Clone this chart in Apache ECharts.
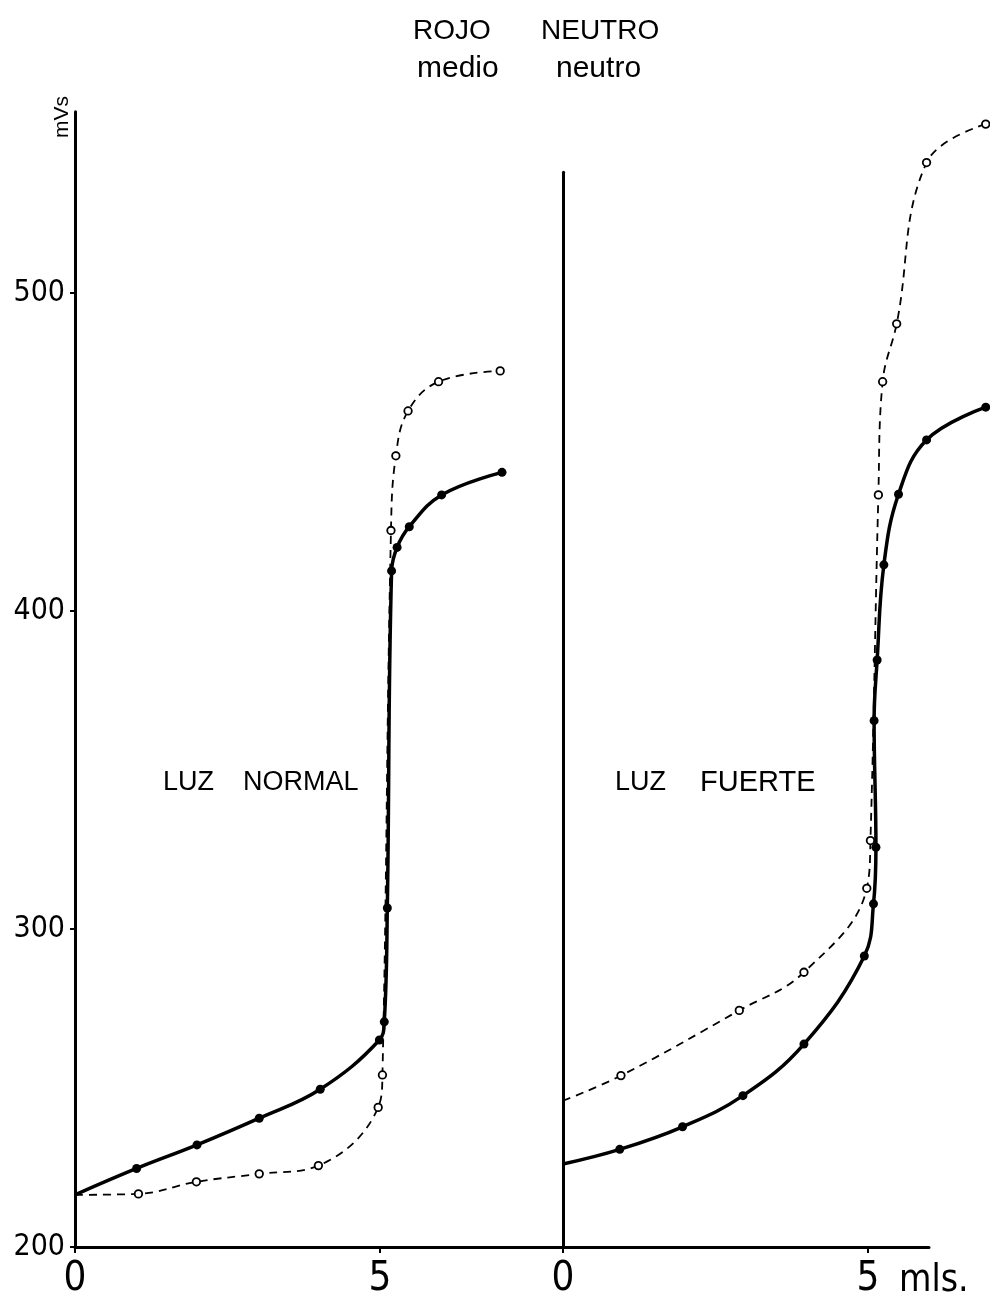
<!DOCTYPE html>
<html>
<head>
<meta charset="utf-8">
<script src="https://cdn.jsdelivr.net/npm/echarts@6/dist/echarts.min.js"></script>
<style>
html,body{margin:0;padding:0;background:#fff;}
#chart{width:990px;height:1299px;}
</style>
</head>
<body>
<div id="chart"></div>
<script>
// ---- data (x in mls., y in mVs) ----
const yTicks = [200, 300, 400, 500];
const xTicks = [0, 5];

// LUZ NORMAL
const normalSolid = [[0,216.4],[1.01,224.7],[2.0,232.1],[3.02,240.5],[4.02,249.6],[4.99,265.1],[5.07,270.8],[5.12,306.6],[5.19,412.6],[5.28,420.0],[5.48,426.5],[6.01,436.5],[7.0,443.6]];
const normalDashed = [[0,216.4],[1.04,216.7],[1.99,220.5],[3.02,223.0],[3.99,225.6],[4.97,243.9],[5.04,254.1],[5.18,425.3],[5.26,448.8],[5.46,462.9],[5.96,472.1],[6.97,475.5]];

// LUZ FUERTE
const fuerteSolid = [[0,226.1],[0.93,230.7],[1.96,237.8],[2.95,247.6],[3.95,263.8],[4.94,291.5],[5.09,307.9],[5.13,325.7],[5.10,365.5],[5.15,384.6],[5.26,414.5],[5.50,436.7],[5.96,453.8],[6.93,464.1]];
const fuerteDashed = [[0,246.0],[0.95,253.9],[2.89,274.4],[3.95,286.4],[4.98,312.8],[5.04,327.8],[5.17,436.5],[5.24,472.1],[5.47,490.3],[5.96,541.0],[6.93,553.1]];

const NARROW = '"Liberation Sans Narrow","DejaVu Sans Condensed","Liberation Sans",sans-serif';
const SANS = '"Liberation Sans","DejaVu Sans",sans-serif';

function solidSeries(data, gi) {
  return {
    type: 'line', xAxisIndex: gi, yAxisIndex: gi, data: data,
    smooth: 0.4, clip: false,
    lineStyle: {color: '#000', width: 3.5},
    symbol: 'circle',
    symbolSize: function (v, p) { return p.dataIndex === 0 ? 0 : 9; },
    itemStyle: {color: '#000'},
    z: 3
  };
}
function dashedSeries(data, gi) {
  return {
    type: 'line', xAxisIndex: gi, yAxisIndex: gi, data: data,
    smooth: 0.4, clip: false,
    lineStyle: {color: '#000', width: 1.8, type: [8, 6]},
    symbol: 'circle',
    symbolSize: function (v, p) { return p.dataIndex === 0 ? 0 : 7.5; },
    itemStyle: {color: '#fff', borderColor: '#000', borderWidth: 1.8},
    z: 4
  };
}

const axisLineStyle = {color: '#000', width: 3, cap: 'round'};
const hidden = {show: false};

function txt(text, x, y, font, extra) {
  return Object.assign({type: 'text', x: x, y: y, style: {text: text, font: font, fill: '#000', textAlign: 'left', textVerticalAlign: 'middle', align: 'left', verticalAlign: 'middle'}}, extra || {});
}

const chart = echarts.init(document.getElementById('chart'), null, {renderer: 'canvas'});
chart.setOption({
  animation: false,
  backgroundColor: '#fff',
  grid: [
    // left panel (LUZ NORMAL)
    {left: 75, top: 111.7, width: 488, height: 1135.3, outerBoundsMode: 'none', containLabel: false},
    // right panel data area (LUZ FUERTE)
    {left: 563, top: 111.7, width: 427, height: 1135.3, outerBoundsMode: 'none', containLabel: false},
    // right panel axes frame
    {left: 563, top: 172.2, width: 366, height: 1074.8, outerBoundsMode: 'none', containLabel: false}
  ],
  xAxis: [
    {
      gridIndex: 0, type: 'value', min: 0, max: 8,
      axisLine: {lineStyle: axisLineStyle},
      axisTick: {customValues: xTicks, length: 6, lineStyle: {color: '#000', width: 2}},
      axisLabel: {customValues: xTicks, color: '#000', fontSize: 40, fontFamily: NARROW, margin: 13},
      splitLine: hidden
    },
    {
      gridIndex: 1, type: 'value', min: 0, max: 7,
      axisLine: hidden, axisTick: hidden, axisLabel: hidden, splitLine: hidden
    },
    {
      gridIndex: 2, type: 'value', min: 0, max: 6,
      axisLine: {lineStyle: axisLineStyle},
      axisTick: {customValues: xTicks, length: 6, lineStyle: {color: '#000', width: 2}},
      axisLabel: {customValues: xTicks, color: '#000', fontSize: 40, fontFamily: NARROW, margin: 13},
      splitLine: hidden
    }
  ],
  yAxis: [
    {
      gridIndex: 0, type: 'value', min: 200, max: 557,
      axisLine: {show: true, lineStyle: axisLineStyle},
      axisTick: {show: true, customValues: yTicks, length: 5, lineStyle: {color: '#000', width: 2}},
      axisLabel: {customValues: yTicks, color: '#000', fontSize: 30, fontFamily: NARROW, margin: 10},
      splitLine: hidden
    },
    {
      gridIndex: 1, type: 'value', min: 200, max: 557,
      axisLine: hidden, axisTick: hidden, axisLabel: hidden, splitLine: hidden
    },
    {
      gridIndex: 2, type: 'value', min: 200, max: 538,
      axisLine: {show: true, lineStyle: axisLineStyle},
      axisTick: hidden, axisLabel: hidden, splitLine: hidden
    }
  ],
  graphic: [
    txt('ROJO', 413, 31, '28px ' + SANS),
    txt('NEUTRO', 541, 31, '28px ' + SANS),
    txt('medio', 417, 69, '30px ' + SANS),
    txt('neutro', 556, 69, '30px ' + SANS),
    txt('LUZ', 163, 783, '27px ' + SANS),
    txt('NORMAL', 243, 783, '27px ' + SANS),
    txt('LUZ', 615, 783, '27px ' + SANS),
    txt('FUERTE', 700, 783, '29px ' + SANS),
    {type: 'text', x: 62, y: 117, rotation: Math.PI / 2, style: {text: 'mVs', font: '21px ' + SANS, fill: '#000', textAlign: 'center', textVerticalAlign: 'middle', align: 'center', verticalAlign: 'middle'}},
    txt('mls.', 899, 1281, '37px ' + NARROW)
  ],
  series: [
    dashedSeries(normalDashed, 0),
    solidSeries(normalSolid, 0),
    dashedSeries(fuerteDashed, 1),
    solidSeries(fuerteSolid, 1)
  ]
});
</script>
</body>
</html>
